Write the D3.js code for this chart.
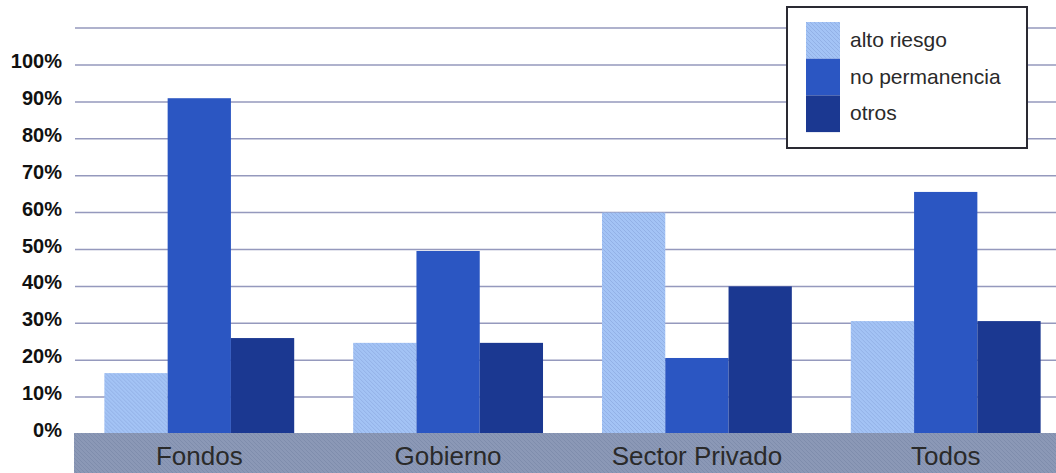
<!DOCTYPE html>
<html>
<head>
<meta charset="utf-8">
<script src="https://cdn.jsdelivr.net/npm/d3@7"></script>
<style>
  body { margin: 0; background: #fff; }
  svg { display: block; }
  text { font-family: "Liberation Sans", Arial, sans-serif; }
</style>
</head>
<body>
<div id="chart"></div>
<script>
var categories = ["Fondos", "Gobierno", "Sector Privado", "Todos"];
var series = ["alto riesgo", "no permanencia", "otros"];
var altoRiesgo = [16.5, 24.7, 60, 30.6];
var noPermanencia = [91, 49.6, 20.6, 65.6];
var otros = [26, 24.7, 40, 30.6];
var yTicks = [0, 10, 20, 30, 40, 50, 60, 70, 80, 90, 100];
var gridValues = [10, 20, 30, 40, 50, 60, 70, 80, 90, 100, 110];

function init() {
    var width = 1056, height = 473;
    var values = [altoRiesgo, noPermanencia, otros];
    var fills = ["url(#hatchLight)", "#2b56c2", "#1b3891"];

    var SVG = d3.select("#chart")
        .append("svg")
        .attr("width", width)
        .attr("height", height);

    var defs = SVG.append("defs");
    var p1 = defs.append("pattern")
        .attr("id", "hatchLight")
        .attr("patternUnits", "userSpaceOnUse")
        .attr("width", 4).attr("height", 4);
    p1.append("rect").attr("width", 4).attr("height", 4).attr("fill", "#a3c3f5");
    p1.append("path").attr("d", "M-1,3 L1,5 M0,0 L4,4 M3,-1 L5,1")
        .attr("stroke", "#93b1e6").attr("stroke-width", 1);

    var p2 = defs.append("pattern")
        .attr("id", "hatchBand")
        .attr("patternUnits", "userSpaceOnUse")
        .attr("width", 4).attr("height", 4);
    p2.append("rect").attr("width", 4).attr("height", 4).attr("fill", "#8b98b6");
    p2.append("path").attr("d", "M-1,3 L1,5 M0,0 L4,4 M3,-1 L5,1")
        .attr("stroke", "#7f8dac").attr("stroke-width", 1);

    var y = d3.scaleLinear().domain([0, 100]).range([434, 65]);

    var x0 = d3.scaleBand()
        .domain(categories)
        .range([75, 1070])
        .paddingInner(0.237)
        .paddingOuter(0.118);

    var x1 = d3.scaleBand()
        .domain(series)
        .range([0, x0.bandwidth()]);

    // gridlines
    SVG.append("g")
        .selectAll("line")
        .data(gridValues)
        .enter()
        .append("line")
        .attr("x1", 75)
        .attr("x2", width)
        .attr("y1", function (d) { return y(d); })
        .attr("y2", function (d) { return y(d); })
        .attr("stroke", "#9599bd")
        .attr("stroke-width", 1.5);

    // y labels
    SVG.append("g")
        .selectAll("text")
        .data(yTicks)
        .enter()
        .append("text")
        .attr("x", 62)
        .attr("y", function (d) { return y(d) + 3; })
        .attr("text-anchor", "end")
        .style("font-size", "20px")
        .style("font-weight", "bold")
        .style("fill", "#111")
        .text(function (d) { return d + "%"; });

    // bars
    var groups = SVG.append("g")
        .selectAll("g")
        .data(categories)
        .enter()
        .append("g")
        .attr("transform", function (d) { return "translate(" + x0(d) + ",0)"; });

    groups.selectAll("rect")
        .data(function (d, i) {
            return series.map(function (s, j) { return { key: s, value: values[j][i], idx: j }; });
        })
        .enter()
        .append("rect")
        .attr("x", function (d) { return x1(d.key); })
        .attr("width", x1.bandwidth())
        .attr("y", function (d) { return y(d.value); })
        .attr("height", function (d) { return y(0) - y(d.value); })
        .attr("fill", function (d) { return fills[d.idx]; });

    // bottom band
    SVG.append("rect")
        .attr("x", 74)
        .attr("y", y(0) - 1)
        .attr("width", width - 74)
        .attr("height", height - y(0) + 1)
        .attr("fill", "url(#hatchBand)");

    SVG.append("g")
        .selectAll("text")
        .data(categories)
        .enter()
        .append("text")
        .attr("x", function (d) { return x0(d) + x0.bandwidth() / 2; })
        .attr("y", 465)
        .attr("text-anchor", "middle")
        .style("font-size", "26px")
        .style("fill", "#2a2a2a")
        .text(function (d) { return d; });

    // legend
    var legend = SVG.append("g");
    legend.append("rect")
        .attr("x", 787)
        .attr("y", 7)
        .attr("width", 240)
        .attr("height", 141)
        .attr("fill", "#fff")
        .attr("stroke", "#2a2a33")
        .attr("stroke-width", 2);

    var items = legend.selectAll("g")
        .data(series)
        .enter()
        .append("g");

    items.append("rect")
        .attr("x", 806)
        .attr("y", function (d, i) { return 22 + i * 36.7; })
        .attr("width", 34)
        .attr("height", 36.7)
        .attr("fill", function (d, i) { return fills[i]; });

    items.append("text")
        .attr("x", 850)
        .attr("y", function (d, i) { return 47 + i * 36.5; })
        .style("font-size", "21px")
        .style("fill", "#2a2a2a")
        .text(function (d) { return d; });
}

window.onload = init;
</script>
</body>
</html>
